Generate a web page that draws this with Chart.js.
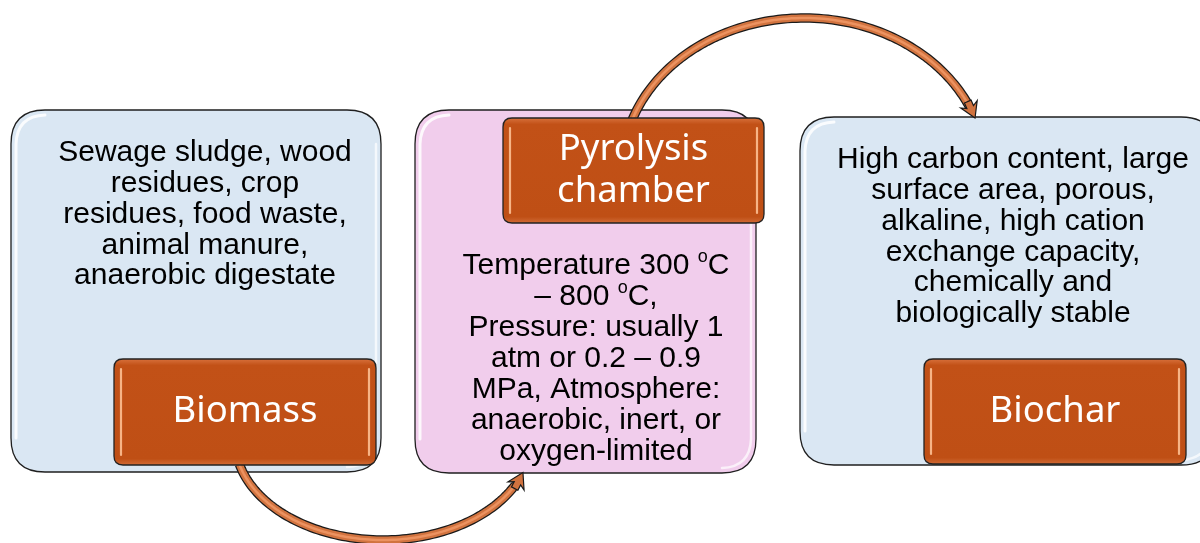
<!DOCTYPE html>
<html>
<head>
<meta charset="utf-8">
<script src="https://cdn.jsdelivr.net/npm/chart.js@4"></script>
<style>
html,body{margin:0;padding:0;background:#fff;}
#wrap{width:1200px;height:543px;position:relative;}
</style>
</head>
<body>
<div id="wrap"><canvas id="c"></canvas></div>
<script>
// ---- content ----
const stageLabels = ['Biomass', 'Pyrolysis\nchamber', 'Biochar'];
const stageDescriptions = [
  ['Sewage sludge, wood', 'residues, crop', 'residues, food waste,', 'animal manure,', 'anaerobic digestate'],
  ['Temperature 300 ^oC', '\u2013 800 ^oC,', 'Pressure: usually 1', 'atm or 0.2 \u2013 0.9', 'MPa, Atmosphere:', 'anaerobic, inert, or', 'oxygen-limited'],
  ['High carbon content, large', 'surface area, porous,', 'alkaline, high cation', 'exchange capacity,', 'chemically and', 'biologically stable']
];
const stageFills = ['#dae7f3', '#f1cdec', '#dae7f3'];

// ---- layout (diagram coordinates in axis units) ----
const boxes = [
  {x0: 11, y0: 110, x1: 381, y1: 472, r: 34},
  {x0: 415, y0: 110, x1: 756, y1: 473, r: 34},
  {x0: 800, y0: 117, x1: 1215, y1: 465, r: 34}
];
const tags = [
  {x0: 114, y0: 359, x1: 376, y1: 465},
  {x0: 503, y0: 118, x1: 764, y1: 223},
  {x0: 924, y0: 359, x1: 1186, y1: 464}
];
const textCenters = [
  {cx: 205, y: 153, lh: 30.8},
  {cx: 596, y: 266, lh: 31},
  {cx: 1013, y: 160, lh: 30.8}
];
const arcs = [
  {cx: 383, cy: 440, rx: 148, ry: 100, a0: 166, a1: 19, dir: -1},
  {cx: 804, cy: 170, rx: 182, ry: 152, a0: 162, a1: 20, dir: 1}
];

function rr(ctx, x0, y0, x1, y1, r) {
  ctx.beginPath();
  ctx.moveTo(x0 + r, y0);
  ctx.lineTo(x1 - r, y0);
  ctx.quadraticCurveTo(x1, y0, x1, y0 + r);
  ctx.lineTo(x1, y1 - r);
  ctx.quadraticCurveTo(x1, y1, x1 - r, y1);
  ctx.lineTo(x0 + r, y1);
  ctx.quadraticCurveTo(x0, y1, x0, y1 - r);
  ctx.lineTo(x0, y0 + r);
  ctx.quadraticCurveTo(x0, y0, x0 + r, y0);
  ctx.closePath();
}

function drawRich(ctx, line, cx, cy, size, family) {
  const parts = line.split(/(\^o)/);
  const big = size + 'px ' + family;
  const small = Math.round(size * 0.6) + 'px ' + family;
  let w = 0;
  parts.forEach(p => {
    if (p === '^o') { ctx.font = small; w += ctx.measureText('o').width; }
    else { ctx.font = big; w += ctx.measureText(p).width; }
  });
  let x = cx - w / 2;
  ctx.textAlign = 'left';
  ctx.textBaseline = 'middle';
  parts.forEach(p => {
    if (p === '^o') {
      ctx.font = small;
      ctx.fillText('o', x, cy - size * 0.3);
      x += ctx.measureText('o').width;
    } else {
      ctx.font = big;
      ctx.fillText(p, x, cy);
      x += ctx.measureText(p).width;
    }
  });
}

const diagramPlugin = {
  id: 'diagram',
  afterDraw(chart) {
    const ctx = chart.ctx;
    const sx = chart.scales.x, sy = chart.scales.y;
    const X = v => sx.getPixelForValue(v);
    const Y = v => sy.getPixelForValue(v);
    ctx.save();

    // big boxes
    boxes.forEach((b, i) => {
      rr(ctx, X(b.x0), Y(b.y0), X(b.x1), Y(b.y1), b.r);
      ctx.fillStyle = stageFills[i];
      ctx.fill();
      ctx.strokeStyle = '#1f1f1f'; ctx.lineWidth = 1.3; ctx.stroke();
      ctx.lineCap = 'round';
      ctx.beginPath();
      ctx.moveTo(X(b.x0) + 5, Y(b.y1) - b.r);
      ctx.lineTo(X(b.x0) + 5, Y(b.y0) + b.r);
      ctx.quadraticCurveTo(X(b.x0) + 6, Y(b.y0) + 6, X(b.x0) + b.r, Y(b.y0) + 5);
      ctx.strokeStyle = 'rgba(255,255,255,0.85)'; ctx.lineWidth = 3; ctx.stroke();
      ctx.beginPath();
      ctx.moveTo(X(b.x1) - 5, Y(b.y0) + b.r);
      ctx.lineTo(X(b.x1) - 5, Y(b.y1) - b.r);
      ctx.quadraticCurveTo(X(b.x1) - 6, Y(b.y1) - 6, X(b.x1) - b.r, Y(b.y1) - 5);
      ctx.strokeStyle = 'rgba(255,255,255,0.7)'; ctx.lineWidth = 2.5; ctx.stroke();
    });

    // curved arrows
    arcs.forEach(a => {
      const pt = deg => {
        const r = deg * Math.PI / 180;
        return [a.cx + a.rx * Math.cos(r), a.cy - a.dir * a.ry * Math.sin(r)];
      };
      const tip = pt(a.a1);
      const nearTip = pt(a.a1 + (a.a0 > a.a1 ? 0.5 : -0.5));
      let ux = tip[0] - nearTip[0], uy = tip[1] - nearTip[1];
      const l = Math.hypot(ux, uy); ux /= l; uy /= l;
      const tipLen = 15, halfW = 9, sw = 3.6;
      const base = [tip[0] - ux * tipLen, tip[1] - uy * tipLen];
      // find shaft end angle close to base
      const shaft = [];
      const n = 100;
      for (let i = 0; i <= n; i++) {
        const d = a.a0 + (a.a1 - a.a0) * i / n;
        const p = pt(d);
        if (Math.hypot(p[0] - tip[0], p[1] - tip[1]) < tipLen - 1) break;
        shaft.push(p);
      }
      shaft.push(base);
      const path = () => {
        ctx.beginPath();
        shaft.forEach((p, i) => i ? ctx.lineTo(X(p[0]), Y(p[1])) : ctx.moveTo(X(p[0]), Y(p[1])));
      };
      ctx.lineCap = 'butt';
      path(); ctx.strokeStyle = '#1a1a1a'; ctx.lineWidth = 9.5; ctx.stroke();
      path(); ctx.strokeStyle = '#d1733f'; ctx.lineWidth = 7; ctx.stroke();
      path(); ctx.strokeStyle = 'rgba(238,150,100,0.9)'; ctx.lineWidth = 2.5; ctx.stroke();
      // head
      const nx = -uy, ny = ux;
      const P = (along, side) => [X(base[0] + ux * along + nx * side), Y(base[1] + uy * along + ny * side)];
      ctx.beginPath();
      let p = P(tipLen, 0); ctx.moveTo(p[0], p[1]);
      p = P(0, halfW); ctx.lineTo(p[0], p[1]);
      p = P(3, sw); ctx.lineTo(p[0], p[1]);
      p = P(-3, sw); ctx.lineTo(p[0], p[1]);
      p = P(-3, -sw); ctx.lineTo(p[0], p[1]);
      p = P(3, -sw); ctx.lineTo(p[0], p[1]);
      p = P(0, -halfW); ctx.lineTo(p[0], p[1]);
      ctx.closePath();
      ctx.fillStyle = '#d1733f'; ctx.fill();
      ctx.strokeStyle = '#1a1a1a'; ctx.lineWidth = 1.2; ctx.lineJoin = 'miter'; ctx.stroke();
    });

    // orange tags
    tags.forEach((t, i) => {
      const x0 = X(t.x0), y0 = Y(t.y0), x1 = X(t.x1), y1 = Y(t.y1);
      rr(ctx, x0, y0, x1, y1, 9);
      const g = ctx.createLinearGradient(0, y0, 0, y1);
      g.addColorStop(0, '#d7703b');
      g.addColorStop(0.06, '#c25117');
      g.addColorStop(0.94, '#bf4f15');
      g.addColorStop(1, '#d06a35');
      ctx.fillStyle = g; ctx.fill();
      ctx.strokeStyle = '#222'; ctx.lineWidth = 1.3; ctx.stroke();
      ctx.lineCap = 'round';
      [x0 + 7, x1 - 7].forEach(xx => {
        ctx.beginPath();
        ctx.moveTo(xx, y0 + 10); ctx.lineTo(xx, y1 - 10);
        ctx.strokeStyle = 'rgba(250,185,140,0.95)'; ctx.lineWidth = 2.2; ctx.stroke();
      });
      ctx.fillStyle = '#fff';
      ctx.textAlign = 'center'; ctx.textBaseline = 'middle';
      ctx.font = '36.5px "Noto Sans", "Open Sans", sans-serif';
      const lines = stageLabels[i].split('\n');
      const cy = (y0 + y1) / 2;
      const lh = 42;
      lines.forEach((ln, k) => ctx.fillText(ln, (x0 + x1) / 2, cy + (k - (lines.length - 1) / 2) * lh));
    });

    // descriptions
    ctx.fillStyle = '#000';
    stageDescriptions.forEach((lines, i) => {
      const t = textCenters[i];
      lines.forEach((ln, k) => drawRich(ctx, ln, X(t.cx), Y(t.y + k * t.lh), 30, '"Liberation Sans", Arial, sans-serif'));
    });

    ctx.restore();
  }
};

new Chart(document.getElementById('c'), {
  type: 'scatter',
  data: { datasets: [{ label: 'stages', data: [], pointRadius: 0 }] },
  options: {
    responsive: true,
    maintainAspectRatio: false,
    animation: false,
    layout: { padding: 0 },
    plugins: { legend: { display: false }, tooltip: { enabled: false } },
    scales: {
      x: { type: 'linear', min: 0, max: 1200, display: false },
      y: { type: 'linear', min: 0, max: 543, reverse: true, display: false }
    }
  },
  plugins: [diagramPlugin]
});
</script>
</body>
</html>
